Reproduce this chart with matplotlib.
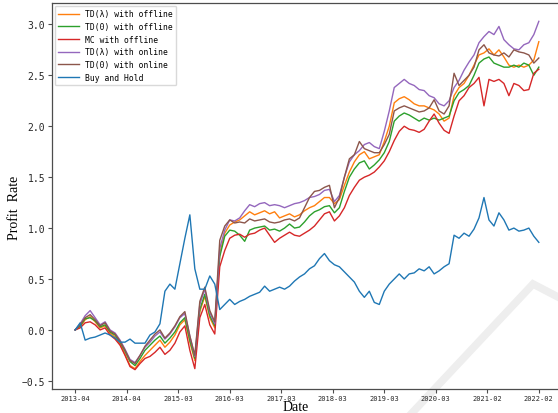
import numpy as np
import matplotlib
matplotlib.use("Agg")
import matplotlib.pyplot as plt
from matplotlib.lines import Line2D

# ---------------- data ----------------
tick_labels = ["2013-04", "2014-04", "2015-03", "2016-03", "2017-03",
               "2018-03", "2019-03", "2020-03", "2021-02", "2022-02"]

td_lambda_offline = [0.00, 0.03, 0.10, 0.13, 0.08, 0.02, 0.04, -0.03, -0.07, -0.14,
                     -0.24, -0.35, -0.38, -0.31, -0.25, -0.20, -0.15, -0.10, -0.17, -0.12,
                     -0.05, 0.05, 0.10, -0.12, -0.30, 0.18, 0.33, 0.12, 0.02, 0.75,
                     0.95, 1.03, 1.06, 1.08, 1.12, 1.16, 1.13, 1.15, 1.17, 1.14,
                     1.16, 1.10, 1.12, 1.14, 1.11, 1.13, 1.17, 1.20, 1.22, 1.26,
                     1.30, 1.30, 1.24, 1.28, 1.42, 1.55, 1.65, 1.72, 1.75, 1.68,
                     1.70, 1.72, 1.85, 2.00, 2.23, 2.27, 2.29, 2.26, 2.22, 2.20,
                     2.20, 2.18, 2.16, 2.12, 2.05, 2.08, 2.30, 2.38, 2.42, 2.50,
                     2.60, 2.70, 2.72, 2.76, 2.70, 2.75, 2.68, 2.60, 2.58, 2.60,
                     2.58, 2.60, 2.65, 2.83]

td0_offline = [0.00, 0.04, 0.11, 0.12, 0.09, 0.03, 0.05, -0.02, -0.05, -0.12,
               -0.21, -0.31, -0.35, -0.28, -0.20, -0.15, -0.10, -0.06, -0.13, -0.08,
               -0.02, 0.07, 0.12, -0.10, -0.28, 0.20, 0.35, 0.14, 0.04, 0.72,
               0.92, 0.98, 0.97, 0.93, 0.87, 0.98, 1.00, 1.01, 1.02, 0.98,
               0.99, 0.97, 1.00, 1.04, 1.00, 1.01, 1.06, 1.12, 1.16, 1.18,
               1.21, 1.22, 1.15, 1.20, 1.36, 1.50, 1.58, 1.64, 1.66, 1.58,
               1.62, 1.67, 1.74, 1.85, 2.05, 2.10, 2.13, 2.11, 2.08, 2.05,
               2.08, 2.06, 2.08, 2.06, 2.08, 2.10, 2.25, 2.33, 2.36, 2.40,
               2.50, 2.62, 2.66, 2.68, 2.62, 2.60, 2.58, 2.58, 2.60, 2.58,
               2.62, 2.60, 2.50, 2.58]

mc_offline = [0.00, 0.02, 0.07, 0.08, 0.05, 0.00, 0.02, -0.05, -0.09, -0.15,
              -0.25, -0.36, -0.39, -0.33, -0.28, -0.26, -0.22, -0.17, -0.24, -0.20,
              -0.13, -0.02, 0.04, -0.20, -0.38, 0.12, 0.25, 0.05, -0.04, 0.62,
              0.78, 0.90, 0.93, 0.94, 0.91, 0.94, 0.95, 0.98, 1.00, 0.93,
              0.86, 0.90, 0.93, 0.96, 0.93, 0.92, 0.95, 0.98, 1.02, 1.08,
              1.14, 1.16, 1.07, 1.12, 1.20, 1.32, 1.40, 1.47, 1.50, 1.52,
              1.55, 1.60, 1.66, 1.75, 1.86, 1.95, 2.00, 1.97, 1.96, 1.94,
              1.97, 2.05, 2.12, 2.03, 1.96, 1.93, 2.10, 2.25, 2.30, 2.38,
              2.42, 2.48, 2.20, 2.46, 2.44, 2.46, 2.42, 2.30, 2.42, 2.40,
              2.35, 2.36, 2.52, 2.56]

td_lambda_online = [0.00, 0.06, 0.14, 0.19, 0.12, 0.05, 0.08, 0.00, -0.03, -0.10,
                    -0.19, -0.29, -0.32, -0.25, -0.17, -0.12, -0.06, -0.02, -0.09, -0.04,
                    0.03, 0.12, 0.16, -0.06, -0.26, 0.25, 0.40, 0.17, 0.06, 0.80,
                    0.98, 1.08, 1.07, 1.10, 1.17, 1.23, 1.21, 1.24, 1.25, 1.22,
                    1.23, 1.22, 1.20, 1.22, 1.24, 1.25, 1.27, 1.30, 1.31, 1.33,
                    1.37, 1.38, 1.26, 1.32, 1.50, 1.65, 1.72, 1.76, 1.82, 1.84,
                    1.80, 1.78, 1.95, 2.15, 2.38, 2.42, 2.46, 2.42, 2.40, 2.36,
                    2.35, 2.30, 2.28, 2.22, 2.20, 2.25, 2.38, 2.45, 2.55, 2.63,
                    2.70, 2.82, 2.88, 2.93, 2.90, 2.98, 2.85, 2.80, 2.76, 2.75,
                    2.80, 2.82, 2.90, 3.03]

td0_online = [0.00, 0.05, 0.12, 0.15, 0.10, 0.04, 0.07, -0.01, -0.04, -0.11,
              -0.20, -0.30, -0.33, -0.25, -0.16, -0.10, -0.04, 0.00, -0.08, -0.03,
              0.04, 0.13, 0.18, -0.06, -0.25, 0.28, 0.42, 0.19, 0.08, 0.88,
              1.02, 1.08, 1.05, 1.06, 1.05, 1.09, 1.07, 1.08, 1.09, 1.06,
              1.05, 1.06, 1.08, 1.09, 1.07, 1.10, 1.20, 1.30, 1.36, 1.37,
              1.40, 1.42, 1.20, 1.30, 1.50, 1.68, 1.72, 1.85, 1.78, 1.76,
              1.74, 1.74, 1.82, 1.92, 2.15, 2.18, 2.20, 2.18, 2.16, 2.14,
              2.15, 2.18, 2.26, 2.15, 2.12, 2.20, 2.52, 2.40, 2.45, 2.50,
              2.58, 2.75, 2.80, 2.72, 2.70, 2.69, 2.72, 2.68, 2.75, 2.73,
              2.72, 2.70, 2.62, 2.67]

buy_and_hold = [0.00, 0.07, -0.10, -0.08, -0.07, -0.05, -0.03, -0.05, -0.08, -0.12,
                -0.12, -0.09, -0.13, -0.13, -0.13, -0.05, -0.02, 0.06, 0.38, 0.45,
                0.40, 0.65, 0.90, 1.13, 0.60, 0.40, 0.40, 0.53, 0.45, 0.20,
                0.25, 0.30, 0.25, 0.28, 0.30, 0.33, 0.35, 0.37, 0.43, 0.38,
                0.40, 0.42, 0.40, 0.43, 0.48, 0.52, 0.55, 0.60, 0.63, 0.70,
                0.75, 0.68, 0.64, 0.62, 0.57, 0.52, 0.47, 0.38, 0.32, 0.38,
                0.27, 0.25, 0.38, 0.45, 0.50, 0.55, 0.50, 0.55, 0.56, 0.60,
                0.58, 0.62, 0.55, 0.58, 0.62, 0.65, 0.93, 0.90, 0.95, 0.92,
                0.99, 1.10, 1.30, 1.08, 1.02, 1.15, 1.08, 0.98, 1.00, 0.97,
                0.98, 1.00, 0.92, 0.86]

series = [
    ("TD(λ) with offline", td_lambda_offline, "#ff7f0e"),
    ("TD(0) with offline", td0_offline, "#2ca02c"),
    ("MC with offline", mc_offline, "#d62728"),
    ("TD(λ) with online", td_lambda_online, "#9467bd"),
    ("TD(0) with online", td0_online, "#8c564b"),
    ("Buy and Hold", buy_and_hold, "#1f77b4"),
]

# ---------------- figure ----------------
W, H = 558, 414
fig = plt.figure(figsize=(W / 100, H / 100), dpi=100)
fig.patch.set_facecolor("white")
ax = fig.add_axes([52 / W, (H - 390) / H, (562 - 52) / W, (390 - 4) / H])
ax.patch.set_alpha(0)

x = np.arange(len(buy_and_hold))
for label, vals, col in series:
    ax.plot(x, vals, color=col, lw=1.0, label=label)

ax.set_ylim(-0.58, 3.21)
ax.set_yticks([-0.5, 0.0, 0.5, 1.0, 1.5, 2.0, 2.5, 3.0])
ax.set_yticklabels(["−0.5", "0.0", "0.5", "1.0", "1.5", "2.0", "2.5", "3.0"],
                   family="DejaVu Sans Mono", fontsize=7)
ax.set_xticks(np.linspace(0, len(x) - 1, len(tick_labels)))
ax.set_xticklabels(tick_labels, family="DejaVu Sans Mono", fontsize=5)

for s in ax.spines.values():
    s.set_color("0.3")
    s.set_linewidth(0.9)
ax.tick_params(axis="both", colors="0.15", length=3, width=0.8, pad=2)
ax.tick_params(axis="x", pad=1.5)
ax.tick_params(axis="both", color="0.3")

ax.set_xlabel("Date", family="Liberation Serif", fontsize=10)
ax.set_ylabel("Profit  Rate", family="Liberation Serif", fontsize=10)
ax.xaxis.set_label_coords((296 - 52) / (562 - 52), -(408 - 390) / (390 - 4))
ax.yaxis.set_label_coords(-(52 - 14) / (562 - 52), (390 - 208) / (390 - 4))
ax.xaxis.label.set_va("center")
ax.yaxis.label.set_va("center")

leg = ax.legend(loc="upper left", prop={"family": "DejaVu Sans Mono", "size": 5.8},
                handlelength=2.6, handletextpad=0.7, labelspacing=0.45,
                borderpad=0.45, borderaxespad=0.35, framealpha=1.0, edgecolor="0.85")

# light grey watermark stroke present in the reference image
wm = Line2D([412 / W, 533 / W, 558 / W], [0.0, (H - 285) / H, (H - 298) / H],
            transform=fig.transFigure, color="#eeeeee", lw=5.5, zorder=-1,
            solid_joinstyle="miter")
fig.add_artist(wm)

fig.savefig("out.png", dpi=100, facecolor="white")
